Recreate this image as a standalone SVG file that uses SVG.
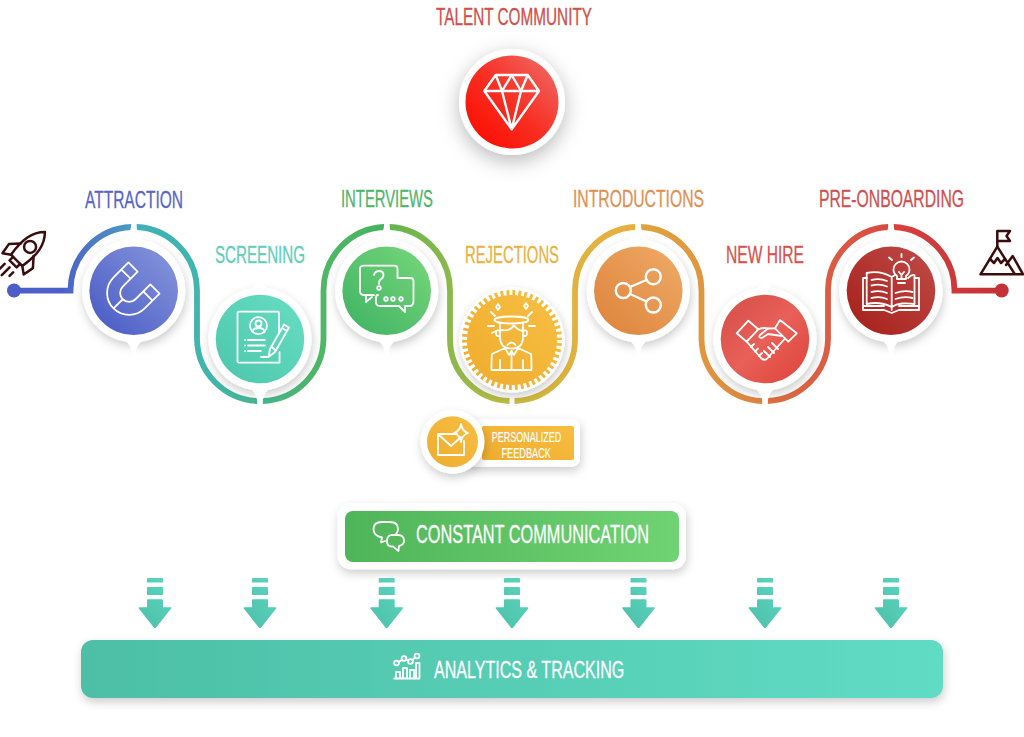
<svg xmlns="http://www.w3.org/2000/svg" width="1024" height="737" viewBox="0 0 1024 737">
<style>
text{font-family:"Liberation Sans Narrow","Liberation Sans",sans-serif;font-size:24px;stroke-width:.3}
.w{fill:#fff}
.lb{font-size:15px;fill:#fff;stroke:#fff;stroke-width:.15}
.ic{fill:none;stroke:#fff;stroke-width:1.8;stroke-linejoin:round;stroke-linecap:round}
.ic2{stroke-width:2.4}
.dk{fill:none;stroke:#3a0c0c;stroke-width:2.5;stroke-linejoin:round;stroke-linecap:round}
.seg{fill:none;stroke-width:5.8}
</style>
<defs>
<filter id="sh" x="-30%" y="-30%" width="160%" height="170%"><feDropShadow dx="1" dy="4" stdDeviation="5" flood-color="#000" flood-opacity=".2"/></filter>
<filter id="shb" x="-40%" y="-40%" width="180%" height="180%"><feDropShadow dx="0" dy="6" stdDeviation="10" flood-color="#000" flood-opacity=".28"/></filter>
<linearGradient id="c1" x1="0" y1="1" x2="1" y2="0"><stop offset=".1" stop-color="#4c5ec6"/><stop offset=".9" stop-color="#8392da"/></linearGradient>
<linearGradient id="c2" x1="0" y1="1" x2="1" y2="0"><stop offset=".1" stop-color="#4ec8ae"/><stop offset=".9" stop-color="#65dcc2"/></linearGradient>
<linearGradient id="c3" x1="0" y1="1" x2="1" y2="0"><stop offset=".1" stop-color="#43b566"/><stop offset=".9" stop-color="#72d478"/></linearGradient>
<linearGradient id="c4" x1="0" y1="1" x2="1" y2="0"><stop offset=".1" stop-color="#f0ae30"/><stop offset=".9" stop-color="#f6bd40"/></linearGradient>
<linearGradient id="c5" x1="0" y1="1" x2="1" y2="0"><stop offset=".1" stop-color="#df863f"/><stop offset=".9" stop-color="#eda762"/></linearGradient>
<linearGradient id="c6" x1="1" y1="1" x2="0" y2="0"><stop offset=".1" stop-color="#e0483e"/><stop offset=".5" stop-color="#e86058"/><stop offset=".9" stop-color="#d8514a"/></linearGradient>
<linearGradient id="c7" x1="0" y1="1" x2="1" y2="0"><stop offset=".1" stop-color="#a8221d"/><stop offset=".9" stop-color="#bd4844"/></linearGradient>
<linearGradient id="c8" x1="0" y1="1" x2="1" y2="0"><stop offset=".15" stop-color="#fb1206"/><stop offset=".5" stop-color="#f92f24"/><stop offset=".95" stop-color="#ee6a66"/></linearGradient>
<linearGradient id="s0" gradientUnits="userSpaceOnUse" x1="60" y1="0" x2="134" y2="0"><stop offset="0" stop-color="#4c5ec8"/><stop offset="1" stop-color="#4a9fc0"/></linearGradient>
<linearGradient id="s1" gradientUnits="userSpaceOnUse" x1="136" y1="0" x2="260" y2="0"><stop offset="0" stop-color="#3fb0b8"/><stop offset=".6" stop-color="#3fb7ac"/><stop offset="1" stop-color="#47b58c"/></linearGradient>
<linearGradient id="s2" gradientUnits="userSpaceOnUse" x1="262" y1="0" x2="385" y2="0"><stop offset="0" stop-color="#47b58c"/><stop offset=".5" stop-color="#4fb765"/><stop offset="1" stop-color="#45b25f"/></linearGradient>
<linearGradient id="s3" gradientUnits="userSpaceOnUse" x1="389" y1="0" x2="510" y2="0"><stop offset="0" stop-color="#62b54f"/><stop offset=".5" stop-color="#8cb84c"/><stop offset="1" stop-color="#c4bc40"/></linearGradient>
<linearGradient id="s4" gradientUnits="userSpaceOnUse" x1="514" y1="0" x2="636" y2="0"><stop offset="0" stop-color="#c8bb40"/><stop offset=".5" stop-color="#e1b23f"/><stop offset="1" stop-color="#e6b040"/></linearGradient>
<linearGradient id="s5" gradientUnits="userSpaceOnUse" x1="640" y1="0" x2="763" y2="0"><stop offset="0" stop-color="#e0a33e"/><stop offset=".5" stop-color="#e0963f"/><stop offset="1" stop-color="#dd8242"/></linearGradient>
<linearGradient id="s6" gradientUnits="userSpaceOnUse" x1="767" y1="0" x2="889" y2="0"><stop offset="0" stop-color="#dc7040"/><stop offset=".5" stop-color="#dc5c44"/><stop offset="1" stop-color="#d74a40"/></linearGradient>
<linearGradient id="s7" gradientUnits="userSpaceOnUse" x1="893" y1="0" x2="1002" y2="0"><stop offset="0" stop-color="#d8403c"/><stop offset="1" stop-color="#c43237"/></linearGradient>
<linearGradient id="gb" x1="0" y1="0" x2="1" y2="0"><stop offset="0" stop-color="#4fb559"/><stop offset="1" stop-color="#70d373"/></linearGradient>
<linearGradient id="ab" x1="0" y1="0" x2="1" y2="0"><stop offset="0" stop-color="#4dbfa6"/><stop offset="1" stop-color="#60dcc4"/></linearGradient>
<linearGradient id="ar" x1="0" y1="1" x2="1" y2="0"><stop offset="0" stop-color="#4dbfa8"/><stop offset="1" stop-color="#5cd6c0"/></linearGradient>
<g id="arrow"><path fill="url(#ar)" d="M-8 0.5Q-8 -.2 -7 -.2H7Q8 -.2 8 .5V4.3H-8ZM-8 9.5Q-8 8.8 -7 8.8H7Q8 8.8 8 9.5V16.8H-8ZM-7 21H7Q8 21 8 22V29H15.7Q17 29 16 30.5L1.2 49.2Q0 50.400 -1.2 49.2L-16 30.5Q-17 29 -15.7 29H-8V22Q-8 21 -7 21Z"/></g>
<path id="tabU" class="w" d="M-2.5 -66.700H2.500Q2.500 -58 10 -50H-10Q-2.500 -58 -2.500 -66.700ZM-10 49H10Q3 54 2.500 60L0 72L-2.500 60Q-3 54 -10 49Z"/>
<path id="tabL" class="w" d="M-10 -49H10Q3 -54 2 -58L0 -63L-2 -58Q-3 -54 -10 -49ZM-2.500 65H2.500Q2.500 56 10 49H-10Q-2.500 56 -2.500 65Z"/>
</defs>

<g id="connectors">
<path class="seg" stroke="url(#s0)" d="M14 290.700H70.500A63.500 63.500 0 0 1 131.500 227"/>
<path class="seg" stroke="url(#s1)" d="M136.500 227A63.500 63.500 0 0 1 197 290.700V339A63 63 0 0 0 257.500 401"/>
<path class="seg" stroke="url(#s2)" d="M262.500 401A63 63 0 0 0 323.500 339V290.700A63.500 63.500 0 0 1 384.500 227"/>
<path class="seg" stroke="url(#s3)" d="M389.500 227A63.500 63.500 0 0 1 450 290.700V339A62 62 0 0 0 509.500 401"/>
<path class="seg" stroke="url(#s4)" d="M514.500 401A62 62 0 0 0 575 339V290.700A63.500 63.500 0 0 1 635.500 227"/>
<path class="seg" stroke="url(#s5)" d="M640.500 227A63.500 63.500 0 0 1 701.500 290.700V339A63 63 0 0 0 762.500 401"/>
<path class="seg" stroke="url(#s6)" d="M767.500 401A63 63 0 0 0 828 339V290.700A63.500 63.500 0 0 1 888.500 227"/>
<path class="seg" stroke="url(#s7)" d="M893.500 227A63.500 63.500 0 0 1 954.500 290.700H1002"/>
<circle cx="14" cy="290.500" r="7" fill="#4c5ec8"/>
<circle cx="1001.700" cy="290.500" r="7" fill="#c43237"/>
</g>

<g id="start-rocket" class="dk" transform="translate(23 254) rotate(45)">
<path d="M0 -31C9 -22 11 -10 8 9H-8C-11 -10 -9 -22 0 -31Z"/>
<circle cx="0" cy="-10" r="6"/>
<path d="M-9 -6L-17 3L-15 14L-8 9M9 -6L17 3L15 14L8 9M-5 9V14H5V9"/>
<path d="M-6 20V27M0 19V30M6 20V25"/>
</g>
<g id="end-mountain" class="dk">
<path d="M980.500 274.300H1023L1012.700 256L1006 265M980.500 274.300L997.300 246.700L1015 274.300"/>
<path d="M990 259L994 263L997.500 258L1001 263L1005 259"/>
<path d="M997.300 246.700V231H1010L1006.500 236L1010 241H997.300"/>
</g>

<g id="talent-community">
<text x="436" y="25" textLength="156" lengthAdjust="spacingAndGlyphs" fill="#cf5048" stroke="#cf5048">TALENT COMMUNITY</text>
<circle class="w" cx="512" cy="102" r="53" filter="url(#shb)"/>
<circle cx="512" cy="102" r="46.500" fill="url(#c8)"/>
<path class="ic ic2" d="M495.700 75H527.700L539 91L511.700 129.300L484.300 91ZM484.300 91H539M495.700 75L502 91L511.700 129.300L521 91L527.700 75M502 91L511.700 75L521 91"/>
</g>

<g id="attraction">
<text x="85" y="207.500" textLength="98" lengthAdjust="spacingAndGlyphs" fill="#5566c5" stroke="#5566c5">ATTRACTION</text>
<circle class="w" cx="133.700" cy="290.700" r="51.500" filter="url(#sh)"/>
<use href="#tabU" x="133.700" y="290.700"/>
<circle cx="133.700" cy="290.700" r="44.300" fill="url(#c1)"/>
<g class="ic" transform="translate(127 295) rotate(45)"><path d="M-22 -24H-9V-3A9 9 0 0 0 9 -3V-24H22V-3A22 22 0 0 1 -22 -3ZM-22 -14H-9M9 -14H22M0 6V19"/></g>
</g>

<g id="screening">
<text x="215" y="263" textLength="90" lengthAdjust="spacingAndGlyphs" fill="#5fcfb9" stroke="#5fcfb9">SCREENING</text>
<circle class="w" cx="260" cy="339" r="51.500" filter="url(#sh)"/>
<use href="#tabL" x="260" y="339"/>
<circle cx="260" cy="339" r="44.300" fill="url(#c2)"/>
<path class="ic" d="M279 332V313Q279 311.700 277.500 311.700H239Q237.500 311.700 237.500 313V361.500Q237.500 362.700 239 362.700H279.500V352M267 357H261"/>
<circle class="ic" cx="258.500" cy="325.700" r="8.500"/><circle class="ic" cx="258.500" cy="323.500" r="3"/><path class="ic" d="M252.500 332Q253 328 258.500 328Q264 328 264.500 332"/>
<path class="ic" d="M248 340H265M248 345.500H265M248 351H261M245 340H245.100M245 345.500H245.100M245 351H245.100"/>
<path class="ic" d="M284 324.500L289 327.500L275 352L268.500 357L270 349ZM282 328L287 331M272 347L275 350"/>
</g>

<g id="interviews">
<text x="341" y="206.500" textLength="92" lengthAdjust="spacingAndGlyphs" fill="#4fb569" stroke="#4fb569">INTERVIEWS</text>
<circle class="w" cx="386.700" cy="290.700" r="51.500" filter="url(#sh)"/>
<use href="#tabU" x="386.700" y="290.700"/>
<circle cx="386.700" cy="290.700" r="44.300" fill="url(#c3)"/>
<path class="ic" d="M374 295H364Q360 295 360 291V269Q360 265.700 364 265.700H394Q397.500 265.700 397.500 269V277M366 295V302L372 297"/>
<path class="ic" d="M397.500 278H410Q413.500 278 413.500 281V300Q413.500 306 410 306H405V312L399 306H380Q376 306 376 302V298Q376 295 378 295"/>
<path class="ic" d="M374 275Q375 271 379 271Q383.500 271 383.500 275Q383.500 278 380 280Q379 281 379 284"/><circle class="ic" cx="379" cy="288" r="1.800"/>
<circle class="ic" cx="386" cy="299" r="1.800"/><circle class="ic" cx="393" cy="299" r="1.800"/><circle class="ic" cx="401" cy="299" r="1.800"/>
</g>

<g id="rejections">
<text x="465" y="263" textLength="94" lengthAdjust="spacingAndGlyphs" fill="#e9b23f" stroke="#e9b23f">REJECTIONS</text>
<circle class="w" cx="512" cy="340" r="52.500" filter="url(#sh)"/>
<circle cx="512" cy="340" r="50" fill="url(#c4)"/>
<circle cx="512" cy="340" r="48" fill="none" stroke="#fff" stroke-width="6" stroke-dasharray="3.140 2.890"/>
<circle cx="512" cy="340" r="44.500" fill="url(#c4)"/>
<g class="ic">
<ellipse cx="511.500" cy="320" rx="17" ry="3.500"/>
<path d="M500 324V337Q500 348.500 511.500 348.500Q523 348.500 523 337V324M500 330Q510 332 514 325Q517 330 523 331"/>
<path d="M500 331Q496 329 496 333Q496 337 500 336M523 331Q527 329 527 333Q527 337 523 336"/>
<path d="M507.500 345Q511.500 340 515.500 345M505 348L492 354Q491.500 356 491.500 370H531.500Q531.500 356 531 354L518 348M505 348L509 355L511.500 351L514 355L518 348M500 360V370M523 360V370M511.500 351V370"/>
<path d="M491 312L495 316M532 312L528 316M488 326H494M529 326H535M492 333L496 331"/>
<path d="M498 304L500 307L498 310L496 307ZM526 303L528 306L526 309L524 306Z"/>
</g>
</g>

<g id="introductions">
<text x="573" y="207" textLength="131" lengthAdjust="spacingAndGlyphs" fill="#df9250" stroke="#df9250">INTRODUCTIONS</text>
<circle class="w" cx="638.300" cy="290.700" r="51.500" filter="url(#sh)"/>
<use href="#tabU" x="638.300" y="290.700"/>
<circle cx="638.300" cy="290.700" r="44.300" fill="url(#c5)"/>
<g class="ic ic2"><circle cx="653.300" cy="276.700" r="7.500"/><circle cx="623.300" cy="290.500" r="7.500"/><circle cx="653.300" cy="305" r="7.500"/><path d="M630 287L646.500 280M630 294L646.500 301.500"/></g>
</g>

<g id="new-hire">
<text x="726" y="263" textLength="78" lengthAdjust="spacingAndGlyphs" fill="#d6534c" stroke="#d6534c">NEW HIRE</text>
<circle class="w" cx="765" cy="339" r="51.500" filter="url(#sh)"/>
<use href="#tabL" x="765" y="339"/>
<circle cx="765" cy="339" r="44.300" fill="url(#c6)"/>
<g class="ic">
<path d="M736.700 333.300L748.300 320.700L758.300 329.300L746.700 341.700ZM780 320L796.700 333.300L788.300 341.700L775 328.300Z"/>
<path d="M757 330Q763 327 768 328.500L775 328.300M785 338.500L766.700 359Q764 361 761 358L746.700 341.700"/>
<path d="M768 328.500L760 335Q758 338 762 338L768 334L782 336M772 343L778 349M768 347L774 353M764 351L770 357"/>
<path d="M751 347L754 344M755 351.500L758 348.500M759 356L762 353"/>
</g>
</g>

<g id="pre-onboarding">
<text x="819" y="207" textLength="145" lengthAdjust="spacingAndGlyphs" fill="#cf4f4f" stroke="#cf4f4f">PRE-ONBOARDING</text>
<circle class="w" cx="891" cy="290.700" r="51.500" filter="url(#sh)"/>
<use href="#tabU" x="891" y="290.700"/>
<circle cx="891" cy="290.700" r="44.300" fill="url(#c7)"/>
<g class="ic">
<path d="M891.700 278V310M891.700 277Q880 270 866.700 273V304Q880 301 891.700 307Q896 304 902 303.500M891.700 277L895 275M908 278Q912 274 914.500 275V304Q908 303 902 303.500"/>
<path d="M866.700 278H863V310H884L891.700 313L899 310H919V278H914.500M863 306H884M899 306H919"/>
<path d="M871.500 280Q880 278 887 281M871.500 285.500Q880 283.500 887 286.500M871.500 292Q880 290 887 293M871.500 298Q880 296 887 299M895.500 293Q904 290 912.500 292M895.500 299Q904 296 912.500 298"/>
<path d="M897 279V276Q893.500 273.500 893.500 269.500A8 8 0 0 1 909.500 269.500Q909.500 273.500 906 276V279ZM898 283H905M899 272L901.500 275V279M904 272L901.500 275M892 260L889 257.500M911 260L914 257.500M901.500 257V254"/>
</g>
</g>

<g id="personalized-feedback">
<rect class="w" x="465" y="419" width="115" height="47.700" rx="8" filter="url(#sh)"/>
<rect x="482" y="426" width="92" height="34" rx="2" fill="url(#c4)"/>
<circle class="w" cx="452.500" cy="441.700" r="32" filter="url(#sh)"/>
<circle cx="452.500" cy="441.700" r="25.500" fill="url(#c4)"/>
<g class="ic"><path d="M457 434H438V455H464V441M438 434L451 446L461 437"/><path d="M461 424Q462 431 468 433Q462 435 461 442Q460 435 454 433Q460 431 461 424Z"/></g>
<text class="lb" x="491.700" y="441.700" textLength="69.500" lengthAdjust="spacingAndGlyphs">PERSONALIZED</text>
<text class="lb" x="501.500" y="457.500" textLength="49.500" lengthAdjust="spacingAndGlyphs">FEEDBACK</text>
</g>

<g id="constant-communication">
<rect class="w" x="337.700" y="503.300" width="348.300" height="66" rx="13" filter="url(#sh)"/>
<rect x="345" y="511" width="334" height="51" rx="8" fill="url(#gb)"/>
<g class="ic"><path d="M385 541L381 542.500L382 537.500Q373.500 536 373.500 529Q373.500 522 382 522H390Q398 522 398 529Q398 532 396 534"/><path d="M391 535H398Q404 535 404 541Q404 545 399 546L398.500 551L393 546.500H391Q387 546 387 541Q387 536 391 535Z"/></g>
<text x="416" y="543.300" style="font-size:25.500px" fill="#fff" stroke="#fff" textLength="233" lengthAdjust="spacingAndGlyphs">CONSTANT COMMUNICATION</text>
</g>

<g id="flow-arrows">
<use href="#arrow" x="155" y="578.300"/><use href="#arrow" x="260" y="578.300"/><use href="#arrow" x="386.700" y="578.300"/><use href="#arrow" x="512" y="578.300"/><use href="#arrow" x="638.500" y="578.300"/><use href="#arrow" x="765" y="578.300"/><use href="#arrow" x="891" y="578.300"/>
</g>

<g id="analytics-tracking">
<rect x="81" y="640" width="862" height="58" rx="12" fill="url(#ab)" filter="url(#sh)"/>
<g class="ic"><path d="M394 678.500H419.500M396 678V672H400V678M403 678V668H407V678M410 678V670H414V678M416 678V663H419.500V678"/><circle cx="396.500" cy="663" r="2.400"/><circle cx="404" cy="658.500" r="2.400"/><circle cx="410.500" cy="661.500" r="2.400"/><circle cx="417" cy="656" r="2.400"/><path d="M398.500 662L402 660M406 659.500L408.500 660.500M412.500 660L415 657.500"/></g>
<text x="434" y="677.700" style="font-size:24.500px" fill="#fff" stroke="#fff" textLength="190.300" lengthAdjust="spacingAndGlyphs">ANALYTICS &amp; TRACKING</text>
</g>
</svg>
